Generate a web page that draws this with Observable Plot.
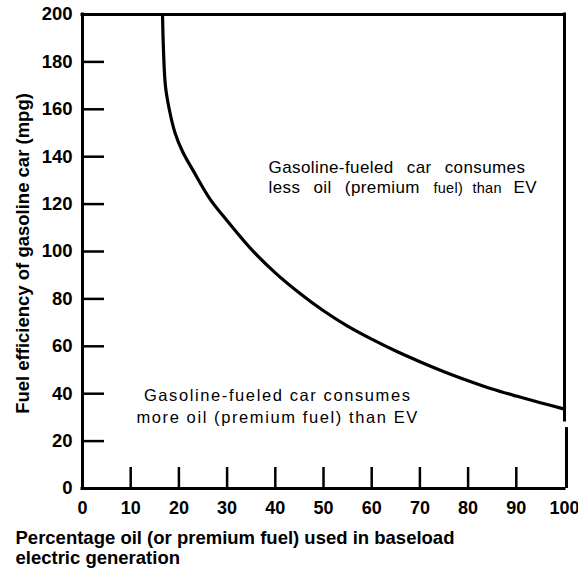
<!DOCTYPE html>
<html>
<head>
<meta charset="utf-8">
<script src="https://cdn.jsdelivr.net/npm/d3@7"></script>
<script src="https://cdn.jsdelivr.net/npm/@observablehq/plot@0.6"></script>
<style>
  body { margin: 0; background: #fff; }
</style>
</head>
<body>
<div id="chart"></div>
<script>
// Break-even curve: % oil in baseload generation vs. gasoline car mpg
const oilShare = [16.6, 16.8, 17.2, 18.0, 19.2, 20.8, 23.0, 26.5, 30, 35, 40, 45, 50, 55, 60, 65, 70, 75, 80, 85, 90, 95, 100];
const breakEvenMpg = [200, 185, 170, 160, 150, 142, 134, 122, 113, 101, 91, 82.5, 75, 68.5, 63, 58, 53.5, 49.3, 45.5, 42, 39, 36.2, 33.5];

const xTicks = [0, 10, 20, 30, 40, 50, 60, 70, 80, 90, 100];
const yTicks = [0, 20, 40, 60, 80, 100, 120, 140, 160, 180, 200];

const xTitle = "Percentage oil (or premium fuel) used in baseload\nelectric generation";
const yTitle = "Fuel efficiency of gasoline car (mpg)";
const upperLine1 = "Gasoline-fueled car consumes";
const upperLine2a = "less oil (premium";
const upperLine2b = "fuel) than";
const upperLine2c = "EV";
const lowerText = "Gasoline-fueled car consumes\nmore oil (premium fuel) than EV";

const curve = oilShare.map((x, i) => ({x, y: breakEvenMpg[i]}));

const W = 578, H = 569;
const mL = 82, mR = 14, mT = 14, mB = 81;
const plotW = W - mL - mR, plotH = H - mT - mB;
const tickLen = 22;
const font = "'Liberation Sans', Arial, Helvetica, sans-serif";

const innerX = xTicks.filter(d => d > 0 && d < 100);
const innerY = yTicks.filter(d => d > 0 && d < 200);

const chart = Plot.plot({
  width: W,
  height: H,
  marginLeft: mL,
  marginRight: mR,
  marginTop: mT,
  marginBottom: mB,
  x: {domain: [0, 100], axis: null},
  y: {domain: [0, 200], axis: null},
  style: {fontFamily: font, color: "#000", background: "#fff", overflow: "visible"},
  marks: [
    // inward tick marks
    Plot.ruleY(innerY, {y: d => d, insetRight: plotW - tickLen, stroke: "#000", strokeWidth: 2.5}),
    Plot.ruleX(innerX, {x: d => d, insetTop: plotH - tickLen + 1, stroke: "#000", strokeWidth: 2.5}),
    // frame
    Plot.ruleX([0], {stroke: "#000", strokeWidth: 3, strokeLinecap: "square"}),
    Plot.ruleY([0], {stroke: "#000", strokeWidth: 3, strokeLinecap: "square"}),
    Plot.ruleY([200], {stroke: "#000", strokeWidth: 3, strokeLinecap: "square"}),
    Plot.ruleX([100], {y1: 28.7, y2: 200, stroke: "#000", strokeWidth: 3, strokeLinecap: "square"}),
    Plot.ruleX([100], {y1: 0, y2: 25.7, dx: 2, stroke: "#000", strokeWidth: 3}),
    // curve
    Plot.line(curve, {x: "x", y: "y", curve: "catmull-rom", stroke: "#000", strokeWidth: 3.2}),
    // tick labels
    Plot.text(xTicks, {x: d => d, frameAnchor: "bottom", dy: 13, lineAnchor: "top", fontSize: 18, fontWeight: "bold", text: d => String(d)}),
    Plot.text(yTicks, {y: d => d, frameAnchor: "left", dx: -10, textAnchor: "end", lineAnchor: "middle", fontSize: 18.5, fontWeight: "bold", text: d => String(d)}),
    // axis titles
    Plot.text([yTitle], {frameAnchor: "left", dx: -54, dy: 2, rotate: -90, textAnchor: "middle", lineAnchor: "bottom", fontSize: 18.5, fontWeight: "bold"}),
    Plot.text([xTitle], {frameAnchor: "bottom-left", dx: -67, dy: 75, textAnchor: "start", lineAnchor: "bottom", lineHeight: 1.03, fontSize: 18.5, fontWeight: "bold"}),
    // region annotations
    Plot.text([upperLine1], {x: 38.6, y: 133.3, textAnchor: "start", lineAnchor: "bottom", fontSize: 17}),
    Plot.text([upperLine2a], {x: 38.6, y: 124.5, textAnchor: "start", lineAnchor: "bottom", fontSize: 17}),
    Plot.text([upperLine2b], {x: 72.8, y: 124.5, textAnchor: "start", lineAnchor: "bottom", fontSize: 14.5}),
    Plot.text([upperLine2c], {x: 89.4, y: 124.5, textAnchor: "start", lineAnchor: "bottom", fontSize: 17}),
    Plot.text([lowerText], {x: 40.5, y: 27.8, textAnchor: "middle", lineAnchor: "bottom", lineHeight: 1.3, fontSize: 16.5})
  ]
});

// typographic spacing of the annotation texts, as in the printed figure
const svgSel = d3.select(chart);
const byText = (t) => svgSel.selectAll("text").filter(function () { return this.textContent === t; });
byText(upperLine1).style("letter-spacing", "0.4px").style("word-spacing", "8px");
byText(upperLine2a).style("letter-spacing", "0.4px").style("word-spacing", "8px");
byText(upperLine2c).style("letter-spacing", "0.4px");
byText(upperLine2b).style("word-spacing", "5px").style("letter-spacing", "0.3px");
byText(lowerText.replace("\n", "")).style("letter-spacing", "1.6px");

document.getElementById("chart").appendChild(chart);
</script>
</body>
</html>
